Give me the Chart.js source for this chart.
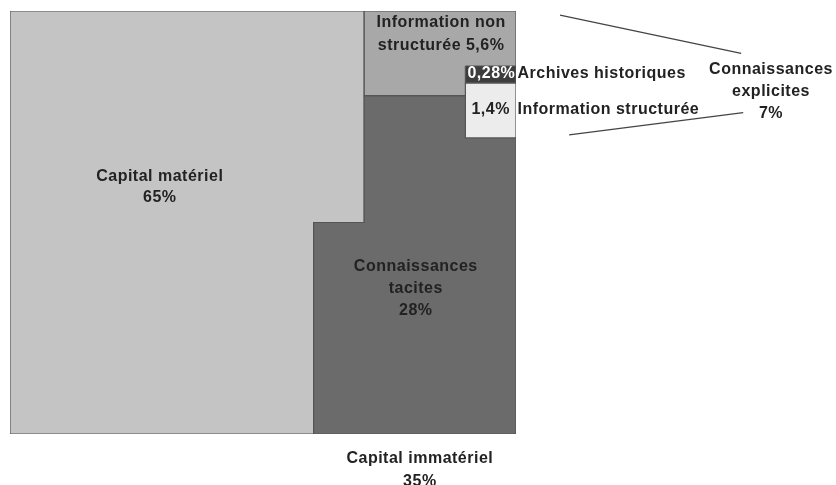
<!DOCTYPE html>
<html>
<head>
<meta charset="utf-8">
<script src="https://cdn.jsdelivr.net/npm/chart.js"></script>
<style>
  html, body { margin: 0; padding: 0; background: #fff; }
  #wrap { width: 836px; height: 485px; }
</style>
</head>
<body>
<div id="wrap"><canvas id="treeChart" width="836" height="485"></canvas></div>
<script>
// shares of total capital, in %
const categories = ['Capital matériel', 'Capital immatériel', 'Connaissances tacites',
  'Connaissances explicites', 'Information non structurée', 'Archives historiques', 'Information structurée'];
const shares = [65, 35, 28, 7, 5.6, 0.28, 1.4];
const shareLabels = ['65%', '35%', '28%', '7%', '5,6%', '0,28%', '1,4%'];

// layout of the blocks on a 100 x 100 square (y grows downwards)
const leftCol = 60;                       // width of the full-height part of capital matériel
const notchW = 10;                        // extra width of its upper part
const notchH = (shares[0] * 100 - leftCol * 100) / notchW;   // -> 50
const splitX = leftCol + notchW;          // start of the upper right block
const explicitH = 20;                     // height of the grey top right block
const smallX = 90;                        // left edge of the two small boxes
const archTop = 13, archBot = 17, structBot = 30;

const rect = (x0, y0, x1, y1) => [
  {x: x0, y: y0}, {x: x1, y: y0}, {x: x1, y: y1}, {x: x0, y: y1}, {x: x0, y: y0}
];

const shapes = [
  { data: rect(smallX, archTop, 100, archBot), color: '#3d3d3d' },
  { data: rect(smallX, archBot, 100, structBot), color: '#ececec' },
  { data: rect(splitX, 0, 100, explicitH), color: '#a8a8a8' },
  { data: [ {x: splitX, y: explicitH}, {x: 100, y: explicitH}, {x: 100, y: 100}, {x: leftCol, y: 100},
            {x: leftCol, y: notchH}, {x: splitX, y: notchH}, {x: splitX, y: explicitH} ], color: '#6b6b6b' },
  { data: [ {x: 0, y: 0}, {x: splitX, y: 0}, {x: splitX, y: notchH}, {x: leftCol, y: notchH},
            {x: leftCol, y: 100}, {x: 0, y: 100}, {x: 0, y: 0} ], color: '#c4c4c4' }
];

// connector lines towards "Connaissances explicites"
const connectors = [
  [{x: 108.7, y: 1}, {x: 144.5, y: 10}],
  [{x: 110.5, y: 29.3}, {x: 144.9, y: 24}]
];

const labels = [
  { lines: [categories[0], shareLabels[0]], x: 29.6, y: 39.2, align: 'center', gap: 20.5 },
  { lines: ['Connaissances', 'tacites', shareLabels[2]], x: 80.2, y: 60.5, align: 'center' },
  { lines: ['Information non', 'structurée ' + shareLabels[4]], x: 85.2, y: 2.85, align: 'center', gap: 23 },
  { lines: [shareLabels[5]], x: 90.4, y: 14.9, align: 'left', color: '#fff' },
  { lines: [shareLabels[6]], x: 91.2, y: 23.4, align: 'left' },
  { lines: [categories[5]], x: 100.3, y: 14.9, align: 'left' },
  { lines: [categories[6]], x: 100.3, y: 23.4, align: 'left' },
  { lines: ['Connaissances', 'explicites', shareLabels[3]], x: 150.4, y: 13.95, align: 'center' },
  { lines: [categories[1], shareLabels[1]], x: 81, y: 105.7, align: 'center', gap: 23 }
];

const datasets = shapes.map(s => ({
  data: s.data,
  showLine: true,
  fill: 'shape',
  backgroundColor: s.color,
  borderColor: '#555',
  borderWidth: 1.2,
  pointRadius: 0,
  tension: 0
})).concat(connectors.map(c => ({
  data: c,
  showLine: true,
  fill: false,
  borderColor: '#444',
  borderWidth: 1.3,
  pointRadius: 0,
  clip: false
})));

const labelPlugin = {
  id: 'blockLabels',
  afterDatasetsDraw(chart) {
    const {ctx, scales: {x, y}} = chart;
    ctx.save();
    ctx.font = 'bold 16px "Liberation Sans", Arial, sans-serif';
    ctx.letterSpacing = '0.5px';
    ctx.textBaseline = 'middle';
    labels.forEach(l => {
      ctx.fillStyle = l.color || '#222';
      ctx.textAlign = l.align;
      l.lines.forEach((t, i) => {
        ctx.fillText(t, x.getPixelForValue(l.x), y.getPixelForValue(l.y) + i * (l.gap || 22));
      });
    });
    ctx.restore();
  }
};

new Chart(document.getElementById('treeChart'), {
  type: 'scatter',
  data: { datasets },
  options: {
    responsive: false,
    animation: false,
    layout: { padding: { left: 10, top: 11, right: 320, bottom: 51 } },
    scales: {
      x: { type: 'linear', min: 0, max: 100, display: false },
      y: { type: 'linear', min: 0, max: 100, reverse: true, display: false }
    },
    plugins: { legend: { display: false }, tooltip: { enabled: false } }
  },
  plugins: [labelPlugin]
});
</script>
</body>
</html>
